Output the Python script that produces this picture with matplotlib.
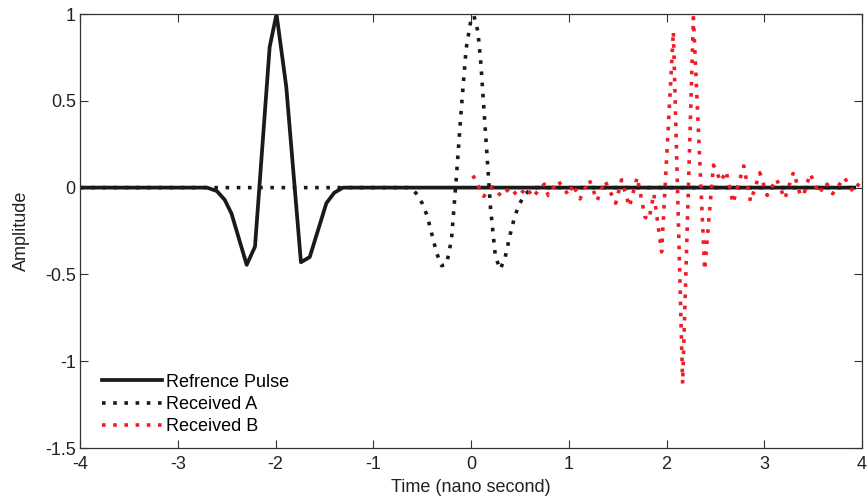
import matplotlib
matplotlib.use("Agg")
import matplotlib.pyplot as plt

plt.rcParams['font.family'] = ['Liberation Sans', 'DejaVu Sans']
plt.rcParams['axes.unicode_minus'] = False

# reference pulse (solid)
ref_t = [-4.0, -2.7, -2.6, -2.52, -2.45, -2.295, -2.21, -2.06, -1.99,
         -1.89, -1.74, -1.65, -1.48, -1.4, -1.31, 3.92]
ref_a = [0.0, 0.0, -0.02, -0.07, -0.15, -0.445, -0.34, 0.81, 1.0,
         0.58, -0.43, -0.40, -0.09, -0.03, 0.0, 0.0]

# received A (black dotted)
a_t = [-4.0, -0.65, -0.6, -0.55, -0.5, -0.45, -0.4, -0.35, -0.3, -0.25,
       -0.2, -0.15, -0.1, -0.05, 0.0, 0.03, 0.07, 0.1, 0.15, 0.2, 0.25,
       0.3, 0.35, 0.4, 0.45, 0.5, 0.55, 0.6, 0.65, 3.9]
a_a = [0.0, 0.0, -0.01, -0.04, -0.09, -0.16, -0.27, -0.38, -0.45, -0.44,
       -0.30, 0.06, 0.45, 0.80, 0.97, 0.99, 0.90, 0.72, 0.30, -0.12, -0.40,
       -0.47, -0.40, -0.27, -0.16, -0.09, -0.04, -0.015, 0.0, 0.0]

# received B (red dotted)
b_t = [0.02, 0.13, 0.22, 0.31, 0.40, 0.48, 0.57, 0.63, 0.75, 0.79, 0.89,
       1.00, 1.04, 1.115, 1.21, 1.29, 1.37, 1.48, 1.54, 1.62, 1.70, 1.78,
       1.82, 1.87, 1.95, 2.07, 2.165, 2.275, 2.39, 2.48, 2.555, 2.61, 2.68,
       2.79, 2.86, 2.955, 3.03, 3.125, 3.21, 3.30, 3.37, 3.40, 3.47, 3.56,
       3.63, 3.70, 3.82, 3.91, 3.99]
b_a = [0.07, -0.05, 0.005, -0.05, 0.0, -0.05, 0.0, -0.055, 0.02, -0.045, 0.04,
       -0.045, 0.02, -0.065, 0.045, -0.075, 0.04, -0.09, 0.045, -0.11, 0.06, -0.17,
       -0.185, -0.035, -0.37, 0.90, -1.13, 0.98, -0.475, 0.13, 0.035, 0.095, -0.09,
       0.125, -0.08, 0.085, -0.045, 0.05, -0.065, 0.09, -0.045, -0.045, 0.08, -0.035,
       0.03, -0.035, 0.058, -0.025, 0.04]

fig = plt.figure(figsize=(8.68, 4.99), dpi=100)
ax = fig.add_axes([0.0922, 0.1022, 0.9009, 0.8697])

dots = (1, 2.1)
ax.plot(ref_t, ref_a, color='#1a1a1a', lw=2.7, label='Refrence Pulse')
ax.plot(a_t, a_a, color='#1a1a1a', lw=2.6, dashes=dots, label='Received A')
ax.plot(b_t, b_a, color='#ee1c25', lw=2.6, dashes=dots, label='Received B')

ax.set_xlim(-4, 4)
ax.set_ylim(-1.5, 1)
ax.set_xticks([-4, -3, -2, -1, 0, 1, 2, 3, 4])
ax.set_yticks([-1.5, -1, -0.5, 0, 0.5, 1])
ax.set_yticklabels(['-1.5', '-1', '-0.5', '0', '0.5', '1'])
ax.tick_params(direction='in', top=True, right=True, labelsize=13,
               color='#333333', labelcolor='#222222', length=6, pad=3)
ax.tick_params(axis='x', pad=6)
for s in ax.spines.values():
    s.set_color('#333333')
    s.set_linewidth(0.9)

ax.set_xlabel('Time (nano second)', fontsize=13, color='#222222', labelpad=4)
ax.set_ylabel('Amplitude', fontsize=13, color='#222222', labelpad=11)

ax.legend(loc='lower left', frameon=False, fontsize=13, handlelength=3.3,
          handletextpad=0.25, labelspacing=0.3, borderpad=0.2,
          bbox_to_anchor=(0.012, 0.0))

fig.savefig('out.png', dpi=100)
